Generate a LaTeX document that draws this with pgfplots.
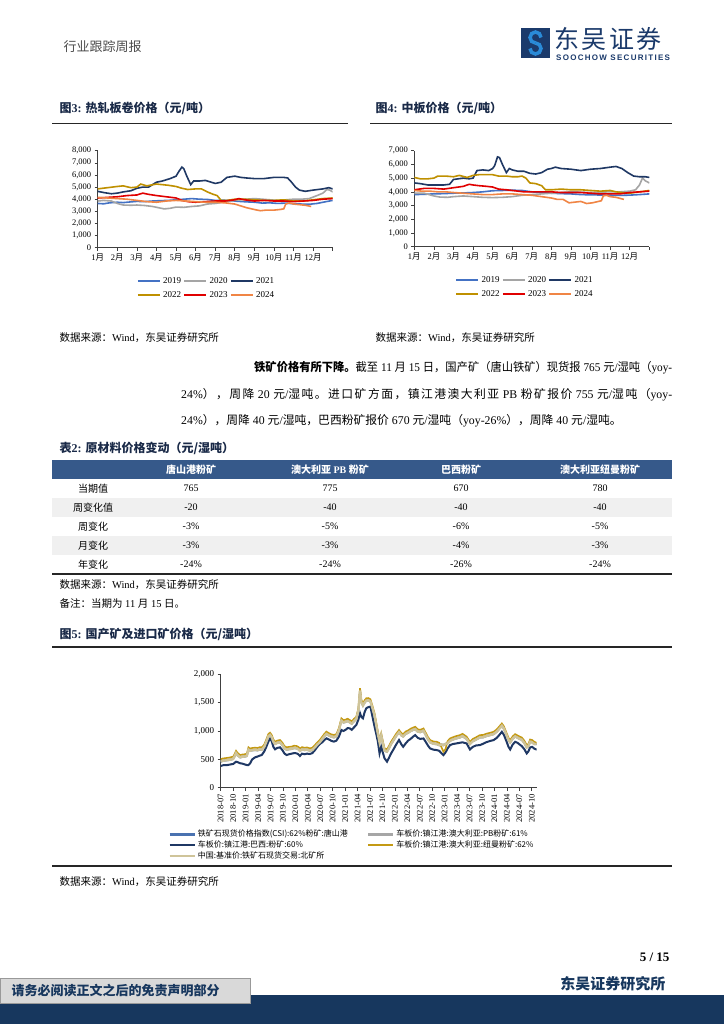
\documentclass[border=0pt]{standalone}
\usepackage{fontspec}
\usepackage{graphicx}
\usepackage{pgfplots}
\usepackage{pgfplotstable}
\pgfplotsset{compat=1.18}
\setmainfont{Liberation Serif}
\setsansfont{Liberation Sans}
\newfontfamily\cjk{Noto Sans CJK SC}
\newcommand\zh[1]{{\cjk #1}}
\newcommand\fs[1]{\fontsize{#1}{#1}\selectfont}
\newcount\cjkcc
\cjkcc="4E00
\loop
  \XeTeXcharclass\cjkcc=1
  \advance\cjkcc by 1
\ifnum\cjkcc<"A000 \repeat
\XeTeXcharclass"FF0C=1 \XeTeXcharclass"FF08=1 \XeTeXcharclass"FF09=1
\XeTeXcharclass"3002=1 \XeTeXcharclass"FF1A=1
\XeTeXinterchartoks 1 1 = {\hskip 0pt plus 0.3em\relax}

\definecolor{c19}{HTML}{4472C4}
\definecolor{c20}{HTML}{A5A5A5}
\definecolor{c21}{HTML}{1F3864}
\definecolor{c22}{HTML}{BF9000}
\definecolor{c23}{HTML}{E00000}
\definecolor{c24}{HTML}{F08545}
\definecolor{navyband}{HTML}{17375E}
\definecolor{logonavy}{HTML}{1B3A6B}
\definecolor{logoblue}{HTML}{2A8BD8}
\definecolor{tblue}{HTML}{36598A}
\definecolor{titlec}{HTML}{1A2A48}
\definecolor{colCSI}{HTML}{4A72B0}
\definecolor{colPB}{HTML}{A6A6A6}
\definecolor{colBR}{HTML}{1F3864}
\definecolor{colNM}{HTML}{C49A14}
\definecolor{colBK}{HTML}{CFC49A}

\pgfplotstableread{
m br nm pb bk csi
0 382 500 470 460 455
0.5 395 515 485 475 470
1 400 520 490 480 475
1.5 398 525 495 485 480
2 405 530 500 490 485
2.5 412 538 508 498 493
3 418 547 517 507 502
3.4 440 600 570 560 555
3.7 459 650 620 610 605
4.1 450 610 580 570 565
4.7 430 576 546 536 531
5.2 425 585 555 545 540
5.8 410 590 560 550 545
6.3 400 600 570 560 555
6.7 400 712 682 672 667
7.1 430 690 660 650 645
7.6 500 700 670 660 655
8.3 535 706 676 666 661
8.9 550 700 670 660 655
9.4 565 715 685 675 670
9.9 576 712 682 672 667
10.5 640 760 730 720 715
11 720 850 820 810 805
11.5 812 947 917 907 902
11.9 865 970 940 930 925
12.3 820 930 900 890 885
12.7 720 850 820 810 805
13.1 676 812 782 772 767
13.6 700 830 800 790 785
14.3 712 841 811 801 796
14.9 660 790 760 750 745
15.4 600 730 700 690 685
15.9 576 712 682 672 667
16.5 590 720 690 680 675
17.1 600 725 695 685 680
17.7 610 740 710 700 695
18.3 606 735 705 695 690
18.7 590 720 690 680 675
19.1 559 690 660 650 645
19.6 600 715 685 675 670
20.2 590 705 675 665 660
20.8 600 710 680 670 665
21.5 594 694 664 654 649
22.1 610 705 675 665 660
22.7 660 750 720 710 705
23.3 720 800 770 760 755
23.9 770 841 811 801 796
24.5 800 900 870 860 855
25 840 950 920 910 905
25.5 870 988 958 948 943
26.1 850 960 930 920 915
26.7 825 940 910 900 895
27.3 812 929 899 889 884
27.9 830 945 915 905 900
28.5 900 1050 1020 1010 1005
29.1 1017 1223 1193 1183 1178
29.6 1000 1190 1160 1150 1145
30.1 1020 1200 1170 1160 1155
30.6 1050 1215 1185 1175 1170
31.1 1047 1194 1164 1154 1149
31.6 1020 1170 1140 1130 1125
32.1 1060 1210 1180 1170 1165
32.7 1106 1253 1223 1213 1208
33.2 1200 1400 1370 1360 1355
33.6 1312 1753 1723 1713 1708
33.9 1250 1550 1520 1510 1505
34.3 1223 1488 1458 1448 1443
34.7 1330 1540 1510 1500 1495
35.1 1400 1576 1546 1536 1531
35.6 1420 1580 1550 1540 1535
36.1 1429 1559 1529 1519 1514
36.6 1250 1440 1410 1400 1395
37.1 1076 1312 1282 1272 1267
37.5 950 1150 1120 1110 1105
37.9 812 988 958 948 943
38.3 606 841 811 801 796
38.7 723 959 929 919 914
39.1 620 820 790 780 775
39.5 518 694 664 654 649
40.1 459 676 646 636 631
40.6 530 740 710 700 695
41.1 606 812 782 772 767
41.7 680 880 850 840 835
42.3 760 950 920 910 905
43 841 1017 987 977 972
43.6 760 960 930 920 915
44 721 944 914 904 899
44.6 780 990 960 950 945
45.2 830 1010 980 970 965
45.8 860 1040 1010 1000 995
46.4 900 1060 1030 1020 1015
46.9 927 1073 1043 1033 1028
47.5 880 1030 1000 990 985
48.1 860 1020 990 980 975
48.9 868 1044 1014 1004 999
49.5 800 960 930 920 915
50 740 890 860 850 845
50.5 692 839 809 799 794
51.3 670 815 785 775 770
52.1 663 809 779 769 764
52.7 650 790 760 750 745
53.2 610 720 770 760 755
53.7 575 633 760 750 745
54.2 620 680 780 770 765
54.7 690 820 790 780 775
55.3 751 868 838 828 823
56 770 890 860 850 845
56.8 780 910 880 870 865
57.7 792 927 897 887 882
58.3 800 950 920 910 905
59.3 780 900 870 860 855
60.1 674 809 779 769 764
60.8 720 860 830 820 815
61.6 745 890 860 850 845
62.5 751 927 897 887 882
63.3 775 930 900 890 885
64 800 950 920 910 905
64.8 820 965 935 925 920
65.8 839 985 955 945 940
66.6 880 1030 1000 990 985
67.3 940 1090 1060 1050 1045
67.8 985 1132 1102 1092 1087
68.3 930 1080 1050 1040 1035
68.9 820 970 940 930 925
69.4 720 880 850 840 835
69.8 674 839 809 799 794
70.4 760 905 875 865 860
71 809 944 914 904 899
71.6 790 920 890 880 875
72.1 760 900 870 860 855
72.6 733 886 856 846 841
73.2 680 830 800 790 785
73.8 604 751 721 711 706
74.2 640 770 740 730 725
74.6 710 850 820 810 805
75.1 720 840 810 800 795
75.6 690 810 780 770 765
76.2 670 790 775 770 765
}\oretable

\pgfplotsset{
  basechart/.style={
    scale only axis,
    axis x line*=bottom, axis y line*=left,
    axis line style={black!75, line width=0.6pt, -},
    tick align=outside, major tick length=3pt,
    tick style={black!75, line width=0.6pt},
    tick label style={font=\fs{8.5}},
    /pgf/number format/assume math mode=true,
    /pgf/number format/1000 sep={,},
    no markers,
    legend cell align=left,
  },
  yearchart/.style={
    basechart,
    width=235pt, height=97pt,
    xmin=0, xmax=12, ymin=0,
    xtick={0,...,12},
    xticklabels={1\zh{月},2\zh{月},3\zh{月},4\zh{月},5\zh{月},6\zh{月},7\zh{月},8\zh{月},9\zh{月},10\zh{月},11\zh{月},12\zh{月},{}},
    every axis plot/.append style={line width=1.6pt},
    legend columns=3,
    legend style={draw=none, fill=none, font=\fs{9}, row sep=2.5pt,
      /tikz/every even column/.append style={column sep=0pt}},
    legend image code/.code={\draw[#1, line width=2.5pt] (0pt,0pt) -- (22pt,0pt);},
  },
}

\begin{document}
\begin{tikzpicture}
\begin{scope}[x=1pt,y=-1pt]
\useasboundingbox (0,0) rectangle (724,1024);
\fill[white] (0,0) rectangle (724,1024);

% header
\node[anchor=west, text=black!70, font=\fs{13}\cjk] at (60,47) {行业跟踪周报};
\fill[logonavy] (521,28) rectangle (550,58);
\draw[logoblue, line width=3.5pt] (541,37.5) arc[start angle=0, end angle=-270, radius=5.5];
\draw[logoblue, line width=3.5pt] (535.5,43) arc[start angle=-90, end angle=180, radius=5.5];
\node[anchor=west, text=logonavy, font=\fs{25}\cjk, inner sep=0] at (554,39) {\addfontfeature{LetterSpace=10}东吴证券};
\node[anchor=west, text=logonavy, font=\fs{8}\sffamily\bfseries, inner sep=0] at (556,57.5) {\addfontfeature{LetterSpace=16}SOOCHOW SECURITIES};

% chart titles
\node[anchor=west, font=\fs{12}\bfseries, text=titlec] at (56,108) {\zh{图}3: \zh{热轧板卷价格（元/吨）}};
\node[anchor=west, font=\fs{12}\bfseries, text=titlec] at (372,108) {\zh{图}4: \zh{中板价格（元/吨）}};
\draw[black!85, line width=0.8pt] (52,123) -- (348,123);
\draw[black!85, line width=0.8pt] (370,123) -- (672,123);

% sources
\node[anchor=west, font=\fs{10.5}] at (56,338) {\zh{数据来源：}Wind\zh{，东吴证券研究所}};
\node[anchor=west, font=\fs{10.5}] at (372,338) {\zh{数据来源：}Wind\zh{，东吴证券研究所}};

% paragraph
\node[anchor=west, inner sep=0, font=\fs{11.8}] at (254,368) {\resizebox{418pt}{\height}{{\cjk\bfseries 铁矿价格有所下降。}\zh{截至} 11 \zh{月} 15 \zh{日，国产矿（唐山铁矿）现货报} 765 \zh{元}/\zh{湿吨（}yoy-}};
\node[anchor=west, inner sep=0, font=\fs{11.8}] at (181,395) {\XeTeXinterchartokenstate=1 \makebox[491pt][s]{24\%\zh{），周降} 20 \zh{元}/\zh{湿吨。进口矿方面，镇江港澳大利亚} PB \zh{粉矿报价} 755 \zh{元}/\zh{湿吨（}yoy-}};
\node[anchor=west, inner sep=0, font=\fs{11.8}] at (181,421) {24\%\zh{），周降} 40 \zh{元}/\zh{湿吨，巴西粉矿报价} 670 \zh{元}/\zh{湿吨（}yoy-26\%\zh{），周降} 40 \zh{元}/\zh{湿吨。}};

% table
\node[anchor=west, font=\fs{12}\bfseries, text=titlec] at (56,448) {\zh{表}2: \zh{原材料价格变动（元/湿吨）}};
\fill[tblue] (52,460) rectangle (672,479);
\fill[black!6] (52,498) rectangle (672,517);
\fill[black!6] (52,536) rectangle (672,555);
\draw[black!85, line width=1.3pt] (52,574) -- (672,574);
\begin{scope}[every node/.style={font=\fs{10}\bfseries, text=white}]
\node at (191,469.5) {\zh{唐山港粉矿}};
\node at (330,469.5) {\zh{澳大利亚} PB \zh{粉矿}};
\node at (461,469.5) {\zh{巴西粉矿}};
\node at (600,469.5) {\zh{澳大利亚纽曼粉矿}};
\end{scope}
\begin{scope}[every node/.style={font=\fs{10}}]
\node at (93,488.5) {\zh{当期值}};
\node at (93,507.5) {\zh{周变化值}};
\node at (93,526.5) {\zh{周变化}};
\node at (93,545.5) {\zh{月变化}};
\node at (93,564.5) {\zh{年变化}};
\node at (191,488.5) {765}; \node at (330,488.5) {775}; \node at (461,488.5) {670}; \node at (600,488.5) {780};
\node at (191,507.5) {-20}; \node at (330,507.5) {-40}; \node at (461,507.5) {-40}; \node at (600,507.5) {-40};
\node at (191,526.5) {-3\%}; \node at (330,526.5) {-5\%}; \node at (461,526.5) {-6\%}; \node at (600,526.5) {-5\%};
\node at (191,545.5) {-3\%}; \node at (330,545.5) {-3\%}; \node at (461,545.5) {-4\%}; \node at (600,545.5) {-3\%};
\node at (191,564.5) {-24\%}; \node at (330,564.5) {-24\%}; \node at (461,564.5) {-26\%}; \node at (600,564.5) {-24\%};
\end{scope}
\node[anchor=west, font=\fs{10.5}] at (56,585) {\zh{数据来源：}Wind\zh{，东吴证券研究所}};
\node[anchor=west, font=\fs{10.5}] at (56,604) {\zh{备注：当期为} 11 \zh{月} 15 \zh{日。}};

% fig 5 title
\node[anchor=west, font=\fs{12}\bfseries, text=titlec] at (56,634) {\zh{图}5: \zh{国产矿及进口矿价格（元/湿吨）}};
\draw[black!85, line width=1.3pt] (52,647) -- (672,647);
\draw[black!85, line width=1.3pt] (52,866) -- (672,866);
\node[anchor=west, font=\fs{10.5}] at (56,882) {\zh{数据来源：}Wind\zh{，东吴证券研究所}};

% footer
\node[anchor=east, font=\fs{13}\bfseries] at (673,957) {5 / 15};
\node[anchor=east, font=\fs{15}\cjk\bfseries, text=navyband] at (669,984) {东吴证券研究所};
\fill[navyband] (0,995) rectangle (724,1024);
\filldraw[fill=black!15, draw=black!40, line width=0.6pt] (0,978) rectangle (250,1003);
\node[anchor=west, font=\fs{13}\cjk\bfseries, text=navyband] at (8,990.5) {请务必阅读正文之后的免责声明部分};
\end{scope}

% ===== chart 3 =====
\begin{axis}[yearchart, at={(97.7pt,-247.7pt)}, anchor=south west,
  ymax=8000, ytick={0,1000,...,8000},
  legend style={at={(0.152,-0.261)}, anchor=north west}]
\addplot[c19] coordinates {(0,3650)(0.3,3620)(0.6,3700)(1,3750)(1.3,3720)(1.7,3780)(2,3820)(2.4,3800)(2.8,3850)(3.2,3880)(3.6,3900)(4,3950)(4.4,4000)(4.8,4050)(5.2,4000)(5.6,3980)(6,3900)(6.4,3920)(6.8,3880)(7.2,3820)(7.6,3780)(8,3750)(8.4,3680)(8.8,3700)(9.2,3650)(9.6,3680)(10,3620)(10.4,3600)(10.8,3580)(11.2,3650)(11.6,3780)(12,3900)};
\addlegendentry{2019}
\addplot[c20] coordinates {(0,3850)(0.3,3900)(0.7,3850)(1,3650)(1.3,3520)(1.7,3500)(2,3520)(2.4,3480)(2.8,3400)(3.1,3300)(3.4,3200)(3.7,3250)(4,3350)(4.4,3330)(4.8,3400)(5.2,3450)(5.6,3600)(6,3650)(6.4,3750)(6.8,3850)(7.2,3950)(7.6,4000)(8,4050)(8.4,4000)(8.8,3950)(9.2,3900)(9.6,3950)(10,4000)(10.4,4000)(10.8,4050)(11.2,4300)(11.5,4500)(11.7,4800)(11.85,4750)(12,4600)};
\addlegendentry{2020}
\addplot[c21] coordinates {(0,4650)(0.3,4550)(0.7,4450)(1,4500)(1.3,4600)(1.7,4700)(2,4900)(2.3,5000)(2.6,5000)(3,5400)(3.3,5500)(3.7,5700)(4,5900)(4.15,6300)(4.3,6650)(4.4,6500)(4.55,5900)(4.75,5200)(4.9,5500)(5.2,5500)(5.5,5550)(5.8,5400)(6,5300)(6.3,5400)(6.6,5800)(7,5900)(7.3,5800)(7.6,5750)(8,5700)(8.5,5700)(9,5800)(9.5,5800)(9.7,5750)(9.9,5400)(10.1,5000)(10.3,4750)(10.6,4650)(11,4750)(11.5,4850)(11.8,4950)(12,4850)};
\addlegendentry{2021}
\addplot[c22] coordinates {(0,4850)(0.5,4950)(1,5050)(1.3,5100)(1.7,4950)(2,5000)(2.2,5250)(2.5,5100)(3,5250)(3.3,5200)(3.6,5150)(4,5050)(4.3,4900)(4.6,4800)(5,4850)(5.3,4850)(5.6,4600)(5.9,4400)(6.1,4300)(6.3,3900)(6.6,3900)(7,4000)(7.5,4000)(8,3950)(8.5,3900)(9,3900)(9.5,3950)(10,3850)(10.5,3850)(11,3950)(11.5,4050)(12,4100)};
\addlegendentry{2022}
\addplot[c23] coordinates {(0,4100)(0.5,4150)(1,4200)(1.5,4300)(2,4350)(2.3,4500)(2.6,4400)(3,4300)(3.5,4200)(4,4100)(4.3,3900)(4.6,3800)(5,3750)(5.5,3800)(6,3850)(6.5,3850)(7,3950)(7.2,4050)(7.5,3950)(8,3850)(8.5,3900)(9,3850)(9.5,3850)(10,3800)(10.5,3850)(11,3900)(11.5,4000)(12,4050)};
\addlegendentry{2023}
\addplot[c24] coordinates {(0,4150)(0.5,4100)(1,4050)(1.5,4000)(2,3900)(2.5,3800)(3,3750)(3.5,3850)(4,3900)(4.5,3850)(5,3800)(5.5,3750)(6,3750)(6.5,3700)(7,3600)(7.3,3450)(7.6,3300)(8,3150)(8.3,3050)(8.6,3100)(9,3100)(9.3,3150)(9.5,3200)(9.6,3600)(9.8,3700)(10,3600)(10.3,3550)(10.6,3500)(10.9,3400)};
\addlegendentry{2024}
\end{axis}

% ===== chart 4 =====
\begin{axis}[yearchart, at={(414.3pt,-246.7pt)}, anchor=south west, height=96pt,
  ymax=7000, ytick={0,1000,...,7000},
  legend style={at={(0.16,-0.264)}, anchor=north west}]
\addplot[c19] coordinates {(0,3800)(0.5,3820)(1,3850)(1.5,3870)(2,3900)(2.5,3920)(3,3950)(3.5,4000)(4,4080)(4.5,4100)(5,4120)(5.5,4100)(6,4000)(6.5,3950)(7,3900)(7.5,3870)(8,3850)(8.5,3800)(9,3780)(9.5,3770)(10,3750)(10.5,3740)(11,3760)(11.5,3800)(12,3850)};
\addlegendentry{2019}
\addplot[c20] coordinates {(0,3900)(0.5,3900)(1,3700)(1.3,3620)(1.7,3600)(2,3650)(2.5,3700)(3,3650)(3.5,3600)(4,3580)(4.5,3600)(5,3650)(5.5,3750)(6,3800)(6.5,3850)(7,3900)(7.5,3950)(8,4000)(8.5,3980)(9,3950)(9.5,3980)(10,4000)(10.5,4000)(11,4050)(11.3,4150)(11.5,4500)(11.65,5000)(11.8,4800)(12,4650)};
\addlegendentry{2020}
\addplot[c21] coordinates {(0,4650)(0.3,4600)(0.7,4500)(1,4500)(1.5,4500)(1.8,4550)(2,4900)(2.5,5000)(2.8,4950)(3,5000)(3.2,5550)(3.5,5600)(3.8,5550)(4,5700)(4.1,5900)(4.25,6550)(4.35,6500)(4.5,6000)(4.7,5400)(4.85,5700)(5,5600)(5.3,5500)(5.6,5500)(5.9,5350)(6.2,5300)(6.5,5400)(6.8,5650)(7,5700)(7.2,5800)(7.5,5700)(8,5650)(8.5,5550)(9,5650)(9.5,5700)(10,5800)(10.3,5850)(10.6,5700)(10.9,5400)(11.2,5150)(11.5,5100)(11.8,5100)(12,5050)};
\addlegendentry{2021}
\addplot[c22] coordinates {(0,5050)(0.3,4950)(0.7,4950)(1,5000)(1.2,5150)(1.6,5150)(2,5100)(2.3,5200)(2.7,5050)(3,5200)(3.3,5250)(3.7,5250)(4,5250)(4.3,5150)(4.7,5150)(5,5100)(5.3,5100)(5.5,5150)(5.7,5000)(5.9,4650)(6.2,4600)(6.5,4450)(6.7,4150)(7,4150)(7.5,4200)(8,4150)(8.5,4150)(9,4100)(9.5,4050)(10,4100)(10.3,4000)(10.6,3950)(11,3900)(11.5,4000)(12,4100)};
\addlegendentry{2022}
\addplot[c23] coordinates {(0,4150)(0.5,4250)(1,4250)(1.5,4200)(2,4300)(2.5,4400)(2.8,4550)(3,4500)(3.3,4450)(3.7,4400)(4,4350)(4.3,4200)(4.7,4150)(5,4100)(5.3,4050)(5.6,4000)(6,4000)(6.5,4000)(7,4000)(7.5,3950)(8,3950)(8.5,3950)(9,3900)(9.5,3850)(10,3850)(10.5,3850)(11,3950)(11.5,4000)(12,4050)};
\addlegendentry{2023}
\addplot[c24] coordinates {(0,4100)(0.4,4050)(0.8,4050)(1.2,4000)(1.6,4000)(2,3950)(2.5,3900)(3,3850)(3.5,3800)(4,3800)(4.5,3850)(5,3850)(5.5,3800)(6,3750)(6.5,3650)(7,3550)(7.3,3450)(7.6,3450)(7.9,3200)(8.2,3250)(8.5,3300)(8.8,3150)(9.1,3200)(9.4,3300)(9.55,3350)(9.65,3700)(9.8,3750)(10,3650)(10.3,3600)(10.7,3450)};
\addlegendentry{2024}
\end{axis}

% ===== chart 5 =====
\begin{axis}[basechart, at={(220.7pt,-787.7pt)}, anchor=south west,
  width=316pt, height=113.5pt,
  xmin=0, xmax=76.2, ymin=0, ymax=2000, ytick={0,500,...,2000},
  xtick={0,3,...,75},
  xticklabels={2018-07,2018-10,2019-01,2019-04,2019-07,2019-10,2020-01,2020-04,2020-07,2020-10,2021-01,2021-04,2021-07,2021-10,2022-01,2022-04,2022-07,2022-10,2023-01,2023-04,2023-07,2023-10,2024-01,2024-04,2024-07,2024-10},
  xticklabel style={rotate=90, anchor=east, font=\fs{8.5}},
  yticklabel style={font=\fs{9}},
  every axis plot/.append style={line width=1.6pt},
  legend columns=2,
  legend style={at={(-0.176,-0.337)}, anchor=north west, draw=none, fill=none,
    font=\fs{8}\cjk, row sep=-1.5pt,
    /tikz/every even column/.append style={column sep=17pt}},
  legend image code/.code={\draw[#1, line width=2.5pt] (0pt,0pt) -- (25pt,0pt);},
]
\addplot[colCSI] table[x=m, y=csi] {\oretable};
\addlegendentry{铁矿石现货价格指数(CSI):62\%粉矿:唐山港}
\addplot[colPB] table[x=m, y=pb] {\oretable};
\addlegendentry{车板价:镇江港:澳大利亚:PB粉矿:61\%}
\addplot[colBR, line width=2pt] table[x=m, y=br] {\oretable};
\addlegendentry{车板价:镇江港:巴西:粉矿:60\%}
\addplot[colNM] table[x=m, y=nm] {\oretable};
\addlegendentry{车板价:镇江港:澳大利亚:纽曼粉矿:62\%}
\addplot[colBK, line width=2.4pt] table[x=m, y=bk] {\oretable};
\addlegendentry{中国:基准价:铁矿石现货交易:北矿所}
\end{axis}
\end{tikzpicture}
\end{document}
